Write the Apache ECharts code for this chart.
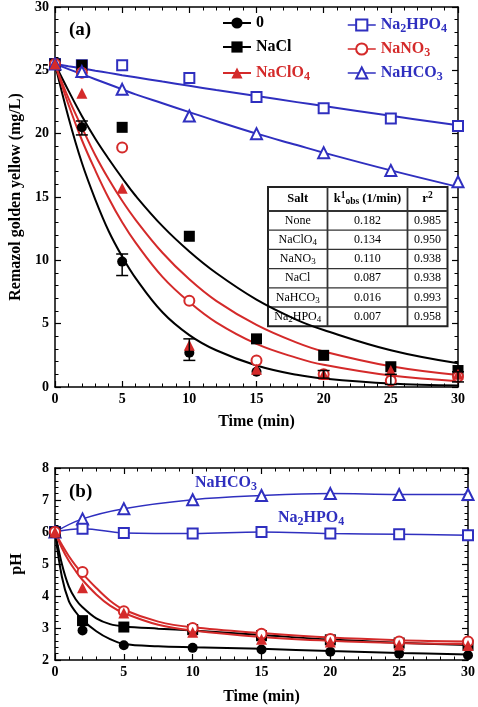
<!DOCTYPE html>
<html><head><meta charset="utf-8">
<script src="https://cdn.jsdelivr.net/npm/echarts@6/dist/echarts.min.js"></script>
<style>html,body{margin:0;padding:0;background:#fff}#c{width:478px;height:707px}</style>
</head><body><div id="c"></div>
<script>
// ---------- data: panel (a) dye concentration ----------
const timesA = [0, 2, 5, 10, 15, 20, 25, 30];
const dye0 = [25.5, 20.5, 9.9, 2.7, 1.2, 1.0, 0.6, 0.8];
const dyeNaCl = [25.5, 25.4, 20.5, 11.9, 3.8, 2.5, 1.6, 1.3];
const dyeNaClO4 = [25.5, 23.2, 15.7, 3.3, 1.4, 1.0, 1.3, 1.0];
const dyeNaNO3 = [25.5, 24.8, 18.9, 6.8, 2.1, 1.0, 0.5, 0.8];
const dyeNa2HPO4 = [25.5, 25.4, 25.4, 24.4, 22.9, 22.0, 21.2, 20.6];
const dyeNaHCO3 = [25.5, 24.9, 23.5, 21.4, 20.0, 18.5, 17.1, 16.2];
const err0 = [[2, 19.9, 21.0], [5, 8.8, 10.5], [10, 2.1, 3.8], [20, 0.7, 1.3], [25, 0.2, 1.0], [30, 0.4, 1.2]];
// fitted curves
const fitTA = [0, 1, 2, 3, 4, 5, 6, 8, 10, 12, 15, 18, 20, 25, 30];
const fit0 = [25.5, 21.3, 17.7, 14.8, 12.3, 10.3, 8.6, 5.9, 4.1, 2.9, 1.7, 0.96, 0.67, 0.27, 0.11];
const fitNaClO4 = [25.5, 22.3, 19.5, 17.1, 14.9, 13.0, 11.4, 8.7, 6.7, 5.1, 3.4, 2.3, 1.75, 0.9, 0.46];
const fitNaNO3 = [25.5, 22.8, 20.5, 18.3, 16.4, 14.7, 13.2, 10.6, 8.5, 6.8, 4.9, 3.5, 2.8, 1.63, 0.94];
const fitNaCl = [25.5, 23.4, 21.4, 19.6, 18.0, 16.5, 15.1, 12.7, 10.7, 9.0, 6.9, 5.3, 4.5, 2.9, 1.87];
const fitNa2HPO4 = [25.5, 25.32, 25.15, 24.97, 24.8, 24.62, 24.45, 24.11, 23.78, 23.45, 22.97, 22.49, 22.18, 21.41, 20.66];
const fitNaHCO3 = [25.5, 25.1, 24.7, 24.3, 23.9, 23.5, 23.1, 22.4, 21.7, 21.0, 20.0, 19.1, 18.5, 17.1, 15.8];
// table
const tableSalt = ['None', 'NaClO4', 'NaNO3', 'NaCl', 'NaHCO3', 'Na2HPO4'];
const tableK = ['0.182', '0.134', '0.110', '0.087', '0.016', '0.007'];
const tableR2 = ['0.985', '0.950', '0.938', '0.938', '0.993', '0.958'];
// ---------- data: panel (b) pH ----------
const timesB = [0, 2, 5, 10, 15, 20, 25, 30];
const pH0 = [6.0, 2.92, 2.46, 2.38, 2.33, 2.26, 2.2, 2.15];
const pHNaCl = [6.0, 3.23, 3.03, 2.95, 2.76, 2.63, 2.53, 2.46];
const pHNaNO3 = [6.0, 4.75, 3.52, 3.0, 2.82, 2.66, 2.58, 2.58];
const pHNaClO4 = [6.0, 4.26, 3.47, 2.87, 2.65, 2.56, 2.47, 2.45];
const pHNaHCO3 = [6.0, 6.41, 6.73, 7.01, 7.14, 7.2, 7.17, 7.17];
const pHNa2HPO4 = [6.0, 6.1, 5.97, 5.95, 6.0, 5.95, 5.93, 5.9];
const fitTB = [0, 0.5, 1, 1.5, 2, 3, 4, 5, 7.5, 10, 15, 20, 25, 30];
const pHfit0 = [6.0, 4.6, 3.85, 3.5, 3.25, 2.9, 2.65, 2.5, 2.43, 2.4, 2.35, 2.28, 2.22, 2.17];
const pHfitNaCl = [6.0, 5.0, 4.3, 3.9, 3.65, 3.3, 3.12, 3.05, 2.98, 2.92, 2.78, 2.64, 2.54, 2.47];
const pHfitNaNO3 = [6.0, 5.6, 5.25, 4.95, 4.7, 4.25, 3.85, 3.57, 3.2, 3.02, 2.84, 2.7, 2.62, 2.58];
const pHfitNaClO4 = [6.0, 5.5, 5.1, 4.78, 4.5, 4.05, 3.7, 3.47, 3.1, 2.92, 2.72, 2.6, 2.53, 2.5];

const BLACK = '#000', RED = '#d42a2a', BLUE = '#2f2fbf';
const FONT = 'Liberation Serif';
const zip = (xs, ys) => xs.map((x, i) => [x, ys[i]]);
function chem(s, n, sb) { // letters -> n style, digits after letters -> sub style
  if (!/[A-Za-z]/.test(s)) return '{' + n + '|' + s + '}';
  return s.replace(/([^0-9]+)|([0-9]+)/g, (m, a, d) => a ? '{' + n + '|' + a + '}' : '{' + sb + '|' + d + '}');
}

const chart = echarts.init(document.getElementById('c'), null, {renderer: 'canvas'});

function xAx(grid, pos, labels, name, nameGap) {
  return {type: 'value', gridIndex: grid, position: pos, min: 0, max: 30, interval: 5,
    axisLine: {show: true, onZero: false, lineStyle: {color: BLACK, width: 1.5}},
    axisTick: {show: true, inside: true, length: 6, lineStyle: {color: BLACK, width: 1.2}},
    minorTick: {show: true, splitNumber: 5, length: 3.5, lineStyle: {color: BLACK, width: 1}},
    axisLabel: {show: labels, margin: 5, color: BLACK, fontFamily: FONT, fontWeight: 'bold', fontSize: 14},
    splitLine: {show: false}, minorSplitLine: {show: false},
    name: labels ? name : '', nameLocation: 'middle', nameGap: nameGap,
    nameTextStyle: {color: BLACK, fontFamily: FONT, fontWeight: 'bold', fontSize: 16}};
}
function yAx(grid, pos, labels, min, max, interval, name, nameGap) {
  return {type: 'value', gridIndex: grid, position: pos, min: min, max: max, interval: interval,
    axisLine: {show: true, onZero: false, lineStyle: {color: BLACK, width: 1.5}},
    axisTick: {show: true, inside: true, length: 6, lineStyle: {color: BLACK, width: 1.2}},
    minorTick: {show: true, splitNumber: 5, length: 3.5, lineStyle: {color: BLACK, width: 1}},
    axisLabel: {show: labels, margin: 6, color: BLACK, fontFamily: FONT, fontWeight: 'bold', fontSize: 14},
    splitLine: {show: false}, minorSplitLine: {show: false},
    name: labels ? name : '', nameLocation: 'middle', nameGap: nameGap,
    nameTextStyle: {color: BLACK, fontFamily: FONT, fontWeight: 'bold', fontSize: 16}};
}

function dataSeries(name, xi, yi, xs, ys, symbol, size, color, filled, z) {
  return {name: name, type: 'line', xAxisIndex: xi, yAxisIndex: yi, data: zip(xs, ys),
    symbol: symbol, symbolSize: size, showSymbol: true, z: z || 5,
    lineStyle: {opacity: 0, color: color, width: 2},
    itemStyle: filled ? {color: color, borderColor: color, borderWidth: 0} : {color: color, borderColor: color, borderWidth: 1.3},
    emphasis: {disabled: true}, animation: false};
}
function lineSeries(name, xi, yi, xs, ys, color, smooth) {
  return {name: name, type: 'line', xAxisIndex: xi, yAxisIndex: yi, data: zip(xs, ys),
    showSymbol: false, symbol: 'none', smooth: smooth, z: 3,
    lineStyle: {color: color, width: 2}, emphasis: {disabled: true}, animation: false};
}

function legendText() {
  return {
    fontFamily: FONT, fontWeight: 'bold', fontSize: 16,
    rich: {
      n: {fontFamily: FONT, fontWeight: 'bold', fontSize: 16, lineHeight: 16, verticalAlign: 'middle'},
      s: {fontFamily: FONT, fontWeight: 'bold', fontSize: 12, lineHeight: 8, padding: [8, 0, 0, 0], verticalAlign: 'middle'}
    }
  };
}
const legItem = (name, color) => ({name: name, textStyle: {color: color}});

const series = [
  // panel (a) fits
  lineSeries('fNa2HPO4', 0, 0, fitTA, fitNa2HPO4, BLUE, 0.4),
  lineSeries('fNaHCO3', 0, 0, fitTA, fitNaHCO3, BLUE, 0.4),
  lineSeries('f0', 0, 0, fitTA, fit0, BLACK, 0.4),
  lineSeries('fNaCl', 0, 0, fitTA, fitNaCl, BLACK, 0.4),
  lineSeries('fNaClO4', 0, 0, fitTA, fitNaClO4, RED, 0.4),
  lineSeries('fNaNO3', 0, 0, fitTA, fitNaNO3, RED, 0.4),
  // panel (a) data
  dataSeries('0', 0, 0, timesA, dye0, 'circle', 10, BLACK, true, 6),
  dataSeries('NaCl', 0, 0, timesA, dyeNaCl, 'rect', 11, BLACK, true, 6),
  dataSeries('NaClO4', 0, 0, timesA, dyeNaClO4, 'triangle', 11, RED, true, 7),
  dataSeries('Na2HPO4', 0, 0, timesA, dyeNa2HPO4, 'emptyRect', 10, BLUE, false, 5),
  dataSeries('NaNO3', 0, 0, timesA, dyeNaNO3, 'emptyCircle', 10, RED, false, 6),
  dataSeries('NaHCO3', 0, 0, timesA, dyeNaHCO3, 'emptyTriangle', 11, BLUE, false, 6),
  {name: 'err0', type: 'custom', xAxisIndex: 0, yAxisIndex: 0, data: err0, z: 8, animation: false,
    encode: {x: 0, y: [1, 2]},
    renderItem: function (params, api) {
      const x = api.value(0), lo = api.value(1), hi = api.value(2);
      const p1 = api.coord([x, lo]), p2 = api.coord([x, hi]);
      const w = 6, st = {stroke: BLACK, lineWidth: 1.5};
      return {type: 'group', children: [
        {type: 'line', shape: {x1: p1[0], y1: p1[1], x2: p2[0], y2: p2[1]}, style: st},
        {type: 'line', shape: {x1: p1[0] - w, y1: p1[1], x2: p1[0] + w, y2: p1[1]}, style: st},
        {type: 'line', shape: {x1: p2[0] - w, y1: p2[1], x2: p2[0] + w, y2: p2[1]}, style: st}
      ]};
    }},
  // panel (b) fits
  lineSeries('pf0', 2, 2, fitTB, pHfit0, BLACK, 0.35),
  lineSeries('pfNaCl', 2, 2, fitTB, pHfitNaCl, BLACK, 0.35),
  lineSeries('pfNaNO3', 2, 2, fitTB, pHfitNaNO3, RED, 0.35),
  lineSeries('pfNaClO4', 2, 2, fitTB, pHfitNaClO4, RED, 0.35),
  // panel (b) data
  dataSeries('p0', 2, 2, timesB, pH0, 'circle', 10, BLACK, true, 6),
  dataSeries('pNaCl', 2, 2, timesB, pHNaCl, 'rect', 11, BLACK, true, 6),
  dataSeries('pNaNO3', 2, 2, timesB, pHNaNO3, 'emptyCircle', 10, RED, false, 6),
  dataSeries('pNaClO4', 2, 2, timesB, pHNaClO4, 'triangle', 11, RED, true, 7),
  Object.assign(lineSeries('pNaHCO3', 2, 2, timesB, pHNaHCO3, BLUE, 0.4), {showSymbol: true, symbol: 'emptyTriangle', symbolSize: 11, itemStyle: {color: BLUE, borderWidth: 1.3}, z: 5, lineStyle: {color: BLUE, width: 1.5}}),
  Object.assign(lineSeries('pNa2HPO4', 2, 2, timesB, pHNa2HPO4, BLUE, 0.4), {showSymbol: true, symbol: 'emptyRect', symbolSize: 10, itemStyle: {color: BLUE, borderWidth: 1.3}, z: 5, lineStyle: {color: BLUE, width: 1.5}})
];

// table graphic
const TX = 268, TY = 187, colW = [59.5, 80, 40], headH = 24, rowH = 19.2;
const TW = colW[0] + colW[1] + colW[2], TH = headH + rowH * tableSalt.length;
const cellFont = {
  n: {fontFamily: FONT, fontSize: 12, lineHeight: 12, verticalAlign: 'middle'},
  s: {fontFamily: FONT, fontSize: 9, lineHeight: 9, padding: [6, 0, 0, 0], verticalAlign: 'middle'},
  b: {fontFamily: FONT, fontWeight: 'bold', fontSize: 12.5, lineHeight: 13, verticalAlign: 'middle'},
  bs: {fontFamily: FONT, fontWeight: 'bold', fontSize: 9.5, lineHeight: 10, padding: [6, 0, 0, 0], verticalAlign: 'middle'},
  sup: {fontFamily: FONT, fontWeight: 'bold', fontSize: 9.5, lineHeight: 10, padding: [0, 0, 7, 0], verticalAlign: 'middle'}
};
const tableEls = [];
tableEls.push({type: 'rect', shape: {x: TX, y: TY, width: TW, height: TH}, style: {fill: '#fff', stroke: '#222', lineWidth: 2}});
let cy = TY + headH;
for (let i = 0; i < tableSalt.length; i++) {
  tableEls.push({type: 'line', shape: {x1: TX, y1: cy, x2: TX + TW, y2: cy}, style: {stroke: '#333', lineWidth: i === 0 ? 1.8 : 1.3}});
  cy += rowH;
}
tableEls.push({type: 'line', shape: {x1: TX + colW[0], y1: TY, x2: TX + colW[0], y2: TY + TH}, style: {stroke: '#333', lineWidth: 1.8}});
tableEls.push({type: 'line', shape: {x1: TX + colW[0] + colW[1], y1: TY, x2: TX + colW[0] + colW[1], y2: TY + TH}, style: {stroke: '#333', lineWidth: 1.8}});
const colC = [TX + colW[0] / 2, TX + colW[0] + colW[1] / 2, TX + colW[0] + colW[1] + colW[2] / 2];
const head = ['{b|Salt}', '{b|k}{sup|1}{bs|obs}{b| (1/min)}', '{b|r}{sup|2}'];
head.forEach((h, j) => tableEls.push({type: 'text', x: colC[j], y: TY + headH / 2,
  style: {text: h, rich: cellFont, align: 'center', verticalAlign: 'middle', fill: '#000'}}));
tableSalt.forEach((s, i) => {
  const y = TY + headH + rowH * (i + 0.5);
  [chem(s, 'n', 's'), '{n|' + tableK[i] + '}', '{n|' + tableR2[i] + '}'].forEach((t, j) =>
    tableEls.push({type: 'text', x: colC[j], y: y, style: {text: t, rich: cellFont, align: 'center', verticalAlign: 'middle', fill: '#000'}}));
});

const labRich = {
  n: {fontFamily: FONT, fontWeight: 'bold', fontSize: 16, lineHeight: 16, verticalAlign: 'middle'},
  s: {fontFamily: FONT, fontWeight: 'bold', fontSize: 12, lineHeight: 12, padding: [8, 0, 0, 0], verticalAlign: 'middle'}
};

const option = {
  backgroundColor: '#fff',
  animation: false,
  grid: [
    {left: 55, top: 7, width: 403, height: 380},
    {left: 55, top: 468, width: 415, height: 192}
  ],
  xAxis: [
    xAx(0, 'bottom', true, 'Time (min)', 27), xAx(0, 'top', false),
    xAx(1, 'bottom', true, 'Time (min)', 29), xAx(1, 'top', false)
  ],
  yAxis: [
    yAx(0, 'left', true, 0, 30, 5, 'Remazol golden yellow (mg/L)', 30), yAx(0, 'right', false, 0, 30, 5),
    yAx(1, 'left', true, 2, 8, 1, 'pH', 30), yAx(1, 'right', false, 2, 8, 1)
  ],
  legend: [
    {data: [legItem('0', BLACK), legItem('NaCl', BLACK), legItem('NaClO4', RED)],
      orient: 'vertical', left: 217, top: 10, itemGap: 8, itemWidth: 28, itemHeight: 14,
      selectedMode: false, textStyle: legendText(),
      formatter: n => chem(n, 'n', 's'), lineStyle: {opacity: 1, width: 2}},
    {data: [legItem('Na2HPO4', BLUE), legItem('NaNO3', RED), legItem('NaHCO3', BLUE)],
      orient: 'vertical', left: 342, top: 10, itemGap: 4, itemWidth: 28, itemHeight: 14,
      selectedMode: false, textStyle: legendText(),
      formatter: n => chem(n, 'n', 's'), lineStyle: {opacity: 1, width: 1.5}}
  ],
  graphic: [
    {type: 'group', z: 100, children: tableEls},
    {type: 'text', z: 100, x: 69, y: 30, style: {text: '(a)', fontFamily: FONT, fontWeight: 'bold', fontSize: 19, fill: '#000', verticalAlign: 'middle'}},
    {type: 'text', z: 100, x: 69, y: 492, style: {text: '(b)', fontFamily: FONT, fontWeight: 'bold', fontSize: 19, fill: '#000', verticalAlign: 'middle'}},
    {type: 'text', z: 100, x: 195, y: 483, style: {text: chem('NaHCO3', 'n', 's'), rich: labRich, fill: BLUE, verticalAlign: 'middle'}},
    {type: 'text', z: 100, x: 278, y: 518, style: {text: chem('Na2HPO4', 'n', 's'), rich: labRich, fill: BLUE, verticalAlign: 'middle'}}
  ],
  series: series
};
chart.setOption(option);
</script></body></html>
